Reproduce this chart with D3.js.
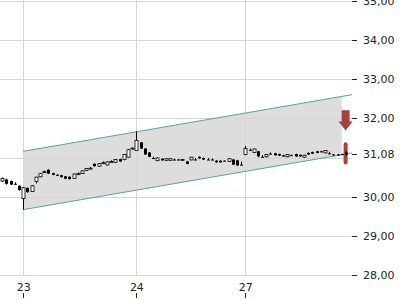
<!DOCTYPE html>
<html lang="de">
<head>
<meta charset="UTF-8">
<title>Intraday Chart</title>
<script src="https://d3js.org/d3.v7.min.js"></script>
<style>
  body { margin: 0; background: #fff; }
  svg { display: block; font-family: "DejaVu Sans", sans-serif; }
</style>
</head>
<body>
<svg id="chart" width="400" height="300"></svg>
<script>
// candle values (open, high, low, close), one per interval
const opens  = [30.40, 30.44, 30.40, 30.33, 30.28,
  29.95, 30.22, 30.13, 30.39, 30.51, 30.63, 30.69, 30.60, 30.56, 30.55, 30.52, 30.51, 30.47, 30.58, 30.59, 30.67, 30.72, 30.84, 30.78, 30.86, 30.81, 30.89, 30.88, 30.96, 30.95, 31.01, 31.23,
  31.18, 31.39, 31.23, 31.13, 30.99, 30.92, 30.97, 30.93, 30.93, 30.95, 30.95, 30.94, 30.90, 30.94, 30.95, 31.02, 30.99, 30.95, 30.95, 30.92, 30.92, 30.92, 30.90, 30.95, 30.93, 30.82,
  31.08, 31.20, 31.13, 31.16, 31.02, 31.02, 31.10, 31.11, 31.09, 31.06, 31.02, 31.06, 31.09, 31.07, 31.01, 31.12, 31.14, 31.16, 31.16, 31.12, 31.11, 31.08, 31.08, 31.09, 31.13];
const highs  = [30.49, 30.46, 30.41, 30.37, 30.29,
  30.25, 30.24, 30.30, 30.51, 30.61, 30.67, 30.70, 30.61, 30.57, 30.56, 30.53, 30.52, 30.59, 30.62, 30.67, 30.73, 30.76, 30.85, 30.86, 30.90, 30.90, 30.93, 30.96, 30.97, 31.09, 31.22, 31.26,
  31.67, 31.40, 31.24, 31.14, 31.02, 31.00, 30.98, 30.98, 30.98, 30.97, 30.96, 30.96, 30.91, 31.02, 30.99, 31.03, 31.00, 30.99, 30.98, 30.93, 30.93, 30.93, 30.98, 30.96, 30.94, 30.90,
  31.30, 31.23, 31.23, 31.17, 31.06, 31.09, 31.13, 31.12, 31.10, 31.07, 31.09, 31.08, 31.10, 31.08, 31.07, 31.13, 31.15, 31.17, 31.17, 31.19, 31.15, 31.09, 31.09, 31.10, 31.17];
const lows   = [30.38, 30.31, 30.30, 30.31, 30.15,
  29.67, 30.10, 30.12, 30.34, 30.50, 30.61, 30.58, 30.55, 30.53, 30.49, 30.45, 30.44, 30.46, 30.57, 30.58, 30.66, 30.71, 30.77, 30.77, 30.84, 30.80, 30.88, 30.87, 30.89, 30.93, 31.00, 31.22,
  31.17, 31.22, 31.07, 31.01, 30.96, 30.91, 30.92, 30.92, 30.92, 30.93, 30.93, 30.93, 30.83, 30.93, 30.94, 30.97, 30.94, 30.94, 30.93, 30.87, 30.87, 30.91, 30.89, 30.81, 30.79, 30.81,
  31.06, 31.17, 31.12, 31.01, 31.01, 31.01, 31.09, 31.05, 31.04, 31.02, 31.01, 31.04, 31.02, 31.02, 31.00, 31.07, 31.09, 31.11, 31.13, 31.11, 31.08, 31.05, 31.05, 31.06, 31.04];
const closes = [30.47, 30.33, 30.31, 30.32, 30.17,
  30.23, 30.12, 30.28, 30.50, 30.59, 30.64, 30.59, 30.56, 30.55, 30.50, 30.46, 30.45, 30.58, 30.59, 30.66, 30.72, 30.73, 30.78, 30.85, 30.87, 30.89, 30.90, 30.95, 30.90, 31.08, 31.20, 31.24,
  31.44, 31.23, 31.08, 31.02, 30.99, 30.99, 30.93, 30.97, 30.97, 30.95, 30.94, 30.95, 30.84, 31.01, 30.95, 30.98, 30.95, 30.95, 30.94, 30.88, 30.88, 30.92, 30.97, 30.82, 30.80, 30.82,
  31.23, 31.20, 31.22, 31.03, 31.02, 31.08, 31.10, 31.06, 31.05, 31.03, 31.08, 31.06, 31.03, 31.03, 31.06, 31.08, 31.10, 31.12, 31.14, 31.18, 31.10, 31.06, 31.06, 31.07, 31.08];

// first candle of each trading day
const dayLabels = ["23", "24", "27"];
const dayStarts = [5, 32, 58];

// y axis
const yTicks = [28, 29, 30, 31, 32, 33, 34, 35];

// trend channel anchors (candle index, upper, lower)
const channelIdx   = [5, 82];
const channelUpper = [31.16, 32.58];
const channelLower = [29.67, 31.09];
const channelFillEnd = 81;

// sell signal marker
const signalArrow = [32.21, 31.69];
const signalBar   = [31.39, 30.82];

const width = 400, height = 300;
const plotRight = 352, plotBottom = 275;

const svg = d3.select("#chart");

const x = d3.scaleLinear().domain([0, opens.length - 1]).range([2.3, 345.9]);
const y = d3.scaleLinear().domain([28, 35]).range([275, 1]);

const candles = opens.map((o, i) => ({ i, o, h: highs[i], l: lows[i], c: closes[i] }));
const lastClose = closes[closes.length - 1];
const fmt = v => d3.format(".2f")(v).replace(".", ",");

// channel
const upperAt = d3.scaleLinear().domain(channelIdx).range(channelUpper);
const lowerAt = d3.scaleLinear().domain(channelIdx).range(channelLower);
const idxEnd = x.invert(plotRight);

svg.append("path")
  .attr("d", d3.area()
      .x(d => x(d))
      .y0(d => y(lowerAt(d)))
      .y1(d => y(upperAt(d)))([channelIdx[0], channelFillEnd]))
  .attr("fill", "#dddddd");

// grid
svg.append("g").selectAll("line").data(yTicks).join("line")
  .attr("x1", 0).attr("x2", plotRight)
  .attr("y1", d => Math.round(y(d)) + 0.5).attr("y2", d => Math.round(y(d)) + 0.5)
  .attr("stroke", "#d6d6d6");

svg.append("g").selectAll("line").data(dayStarts).join("line")
  .attr("x1", d => Math.round(x(d)) + 0.5).attr("x2", d => Math.round(x(d)) + 0.5)
  .attr("y1", 0).attr("y2", plotBottom)
  .attr("stroke", "#d6d6d6");

// channel edges
[upperAt, lowerAt].forEach(f => {
  svg.append("line")
    .attr("x1", x(channelIdx[0])).attr("y1", y(f(channelIdx[0])))
    .attr("x2", x(idxEnd)).attr("y2", y(f(idxEnd)))
    .attr("stroke", "#5d9fa6").attr("stroke-width", 1);
});

// signal marker (behind the candles)
const sx = x(opens.length - 1) - 0.3;
const aTop = y(signalArrow[0]), aTip = y(signalArrow[1]);
svg.append("path")
  .attr("d", `M${sx - 4},${aTop} L${sx + 4},${aTop} L${sx + 4},${aTip - 9} L${sx + 7},${aTip - 9} L${sx},${aTip} L${sx - 7},${aTip - 9} L${sx - 4},${aTip - 9} Z`)
  .attr("fill", "#a8403b");

svg.append("rect")
  .attr("x", sx - 2).attr("width", 4)
  .attr("y", y(signalBar[0])).attr("height", y(signalBar[1]) - y(signalBar[0]))
  .attr("rx", 2)
  .attr("fill", "#a8403b");

// candles
const cg = svg.append("g");
cg.selectAll("line").data(candles).join("line")
  .attr("x1", d => Math.round(x(d.i)) + 0.5).attr("x2", d => Math.round(x(d.i)) + 0.5)
  .attr("y1", d => y(d.h)).attr("y2", d => y(d.l))
  .attr("stroke", "#000");

cg.selectAll("rect").data(candles).join("rect")
  .attr("x", d => Math.round(x(d.i)) - 1)
  .attr("width", 3)
  .attr("y", d => y(Math.max(d.o, d.c)))
  .attr("height", d => Math.max(1, Math.abs(y(d.o) - y(d.c))))
  .attr("fill", d => d.c > d.o ? "#fff" : "#000")
  .attr("stroke", d => d.c > d.o ? "#000" : "none")
  .attr("stroke-width", 0.8);

// y axis (right)
const yLabels = yTicks.filter(t => t !== 31).concat([lastClose]);
const ya = svg.append("g");
ya.selectAll("line").data(yLabels).join("line")
  .attr("x1", 352).attr("x2", 357)
  .attr("y1", d => Math.round(y(d)) + 0.5).attr("y2", d => Math.round(y(d)) + 0.5)
  .attr("stroke", "#222");
ya.selectAll("text").data(yLabels).join("text")
  .attr("x", 363).attr("y", d => y(d))
  .attr("dy", "0.35em")
  .attr("font-size", 11)
  .attr("fill", "#222")
  .text(d => fmt(d));

// x axis
const xa = svg.append("g");
xa.selectAll("text").data(dayStarts).join("text")
  .attr("x", d => x(d) + 0.5).attr("y", 291)
  .attr("text-anchor", "middle")
  .attr("font-size", 11)
  .attr("fill", "#222")
  .text((d, i) => dayLabels[i]);
xa.selectAll("line").data(dayStarts).join("line")
  .attr("x1", d => Math.round(x(d)) + 0.5).attr("x2", d => Math.round(x(d)) + 0.5)
  .attr("y1", 293).attr("y2", 298)
  .attr("stroke", "#222");
</script>
</body>
</html>
